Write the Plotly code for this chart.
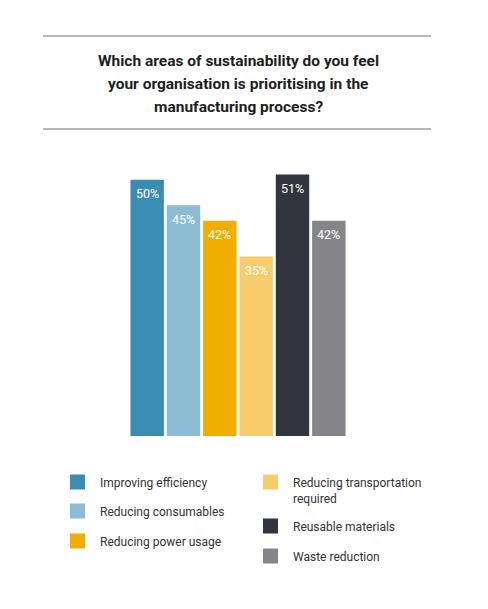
import plotly.graph_objects as go

categories = ["Improving efficiency", "Reducing consumables", "Reducing power usage",
              "Reducing transportation required", "Reusable materials", "Waste reduction"]
legend_labels = ["Improving efficiency", "Reducing consumables", "Reducing power usage",
                 "Reducing transportation<br>required", "Reusable materials", "Waste reduction"]
values = [50, 45, 42, 35, 51, 42]
colors = ["#3a8cb3", "#8bbcd4", "#f1ad00", "#f6cd6a", "#32353d", "#858589"]
title_lines = ["Which areas of sustainability do you feel",
               "your organisation is prioritising in the",
               "manufacturing process?"]

W, H = 488, 609
OFF = 8  # page body offset
PL, PR, PT, PB = 129, 347, 154, 436  # plot area in screen pixels

fig = go.Figure()
fig.add_trace(go.Bar(
    x=categories, y=values,
    marker=dict(color=colors, line=dict(width=0)),
    showlegend=False, hoverinfo="x+y",
))

fig.update_layout(
    width=W, height=H,
    margin=dict(l=PL - OFF, r=W - (PR - OFF), t=PT - OFF, b=H - (PB - OFF)),
    paper_bgcolor="white", plot_bgcolor="white",
    bargap=0.08,
    xaxis=dict(visible=False),
    yaxis=dict(visible=False, range=[0, 55]),
    font=dict(family="Roboto", color="#2b2b2b"),
)

sx = lambda v: (v - PL) / (PR - PL)
sy = lambda v: (PB - v) / (PB - PT)

shapes = []
for y in (36, 129):
    shapes.append(dict(type="line", xref="paper", yref="paper",
                       x0=sx(43), x1=sx(431), y0=sy(y), y1=sy(y),
                       line=dict(color="#a0a0a0", width=1.5)))

annotations = []
# value labels inside bar tops
for c, v in zip(categories, values):
    annotations.append(dict(text=f"{v}%", x=c, y=v, xref="x", yref="y",
                            yanchor="middle", xanchor="center", yshift=-14,
                            showarrow=False,
                            font=dict(size=12.5, color="white", family="Roboto")))

for t, yc in zip(title_lines, (61, 84, 107)):
    annotations.append(dict(text=f"<b>{t}</b>", xref="paper", yref="paper",
                            x=sx(238), y=sy(yc),
                            xanchor="center", yanchor="middle", showarrow=False,
                            font=dict(size=15.5, color="#1e1e1e", family="Roboto")))

# legend
leg_pos = [(70, 482), (70, 511), (70, 541), (263, 482), (263, 526), (263, 556)]
for lab, col, (x, y) in zip(legend_labels, colors, leg_pos):
    shapes.append(dict(type="rect", xref="paper", yref="paper",
                       x0=sx(x), x1=sx(x + 15), y0=sy(y - 7.5), y1=sy(y + 7.5),
                       fillcolor=col, line=dict(width=0)))
    annotations.append(dict(text=lab, xref="paper", yref="paper",
                            x=sx(x + 28), y=sy(y - 8), xanchor="left", yanchor="top",
                            align="left", showarrow=False,
                            font=dict(size=12, color="#333333", family="Roboto")))

fig.update_layout(shapes=shapes, annotations=annotations)
fig.write_html("out.html")
